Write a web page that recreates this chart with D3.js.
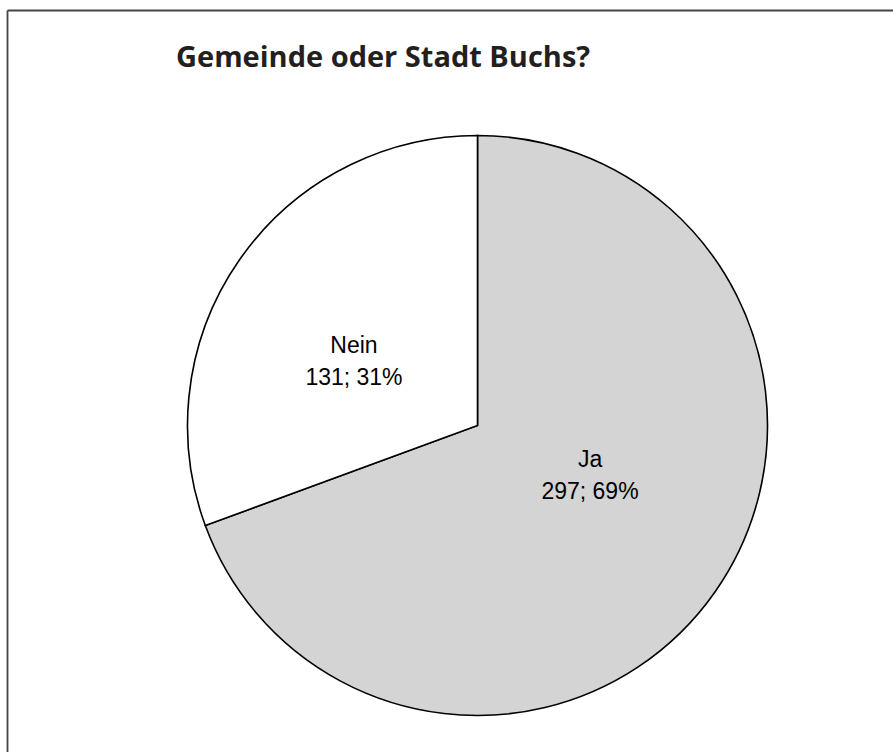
<!DOCTYPE html>
<html>
<head>
<meta charset="utf-8">
<script src="https://cdn.jsdelivr.net/npm/d3@7"></script>
<style>
  html, body { margin: 0; padding: 0; background: #fff; }
  svg { display: block; }
</style>
</head>
<body>
<svg id="chart" width="893" height="752"></svg>
<script>
const title = "Gemeinde oder Stadt Buchs?";
const categories = ["Ja", "Nein"];
const values = [297, 131];
const percents = ["69%", "31%"];
const colors = ["#d4d4d4", "#ffffff"];

const svg = d3.select("#chart");
const W = 893, H = 752;

// frame (top and left edges visible)
svg.append("line").attr("x1", 7.5).attr("y1", 10.5).attr("x2", W).attr("y2", 10.5)
  .attr("stroke", "#444").attr("stroke-width", 1.8);
svg.append("line").attr("x1", 7.5).attr("y1", 10.5).attr("x2", 7.5).attr("y2", H)
  .attr("stroke", "#444").attr("stroke-width", 1.8);

// title
svg.append("text")
  .attr("x", 176).attr("y", 67)
  .attr("font-family", "'Open Sans', sans-serif")
  .attr("font-weight", "bold")
  .attr("font-size", 29)
  .attr("fill", "#231f20")
  .text(title);

const cx = 477.5, cy = 425.5, R = 290;
const g = svg.append("g").attr("transform", `translate(${cx},${cy})`);

const data = categories.map((c, i) => ({ name: c, value: values[i], pct: percents[i], color: colors[i] }));
const pie = d3.pie().value(d => d.value).sort(null);
const arcs = pie(data);
const arc = d3.arc().innerRadius(0).outerRadius(R);

g.selectAll("path.slice").data(arcs).enter().append("path")
  .attr("class", "slice")
  .attr("d", arc)
  .attr("fill", d => d.data.color)
  .attr("stroke", "#000")
  .attr("stroke-width", 1.6)
  .attr("stroke-linejoin", "miter");

// labels
const labelArc = d3.arc().innerRadius(R * 0.45).outerRadius(R * 0.45);
const nudge = { "Ja": [5.5, -28.5], "Nein": [-16.5, 7.5] };
const lg = g.selectAll("g.lbl").data(arcs).enter().append("g").attr("class", "lbl")
  .attr("transform", d => {
    const c = labelArc.centroid(d);
    return `translate(${c[0] + nudge[d.data.name][0]},${c[1] + nudge[d.data.name][1]})`;
  });
lg.append("text").attr("text-anchor", "middle").attr("y", -5)
  .attr("font-family", "'Liberation Sans', Arial, sans-serif").attr("font-size", 23).attr("fill", "#000")
  .text(d => d.data.name);
lg.append("text").attr("text-anchor", "middle").attr("y", 27)
  .attr("font-family", "'Liberation Sans', Arial, sans-serif").attr("font-size", 23).attr("fill", "#000")
  .text(d => d.data.value + "; " + d.data.pct);
</script>
</body>
</html>
